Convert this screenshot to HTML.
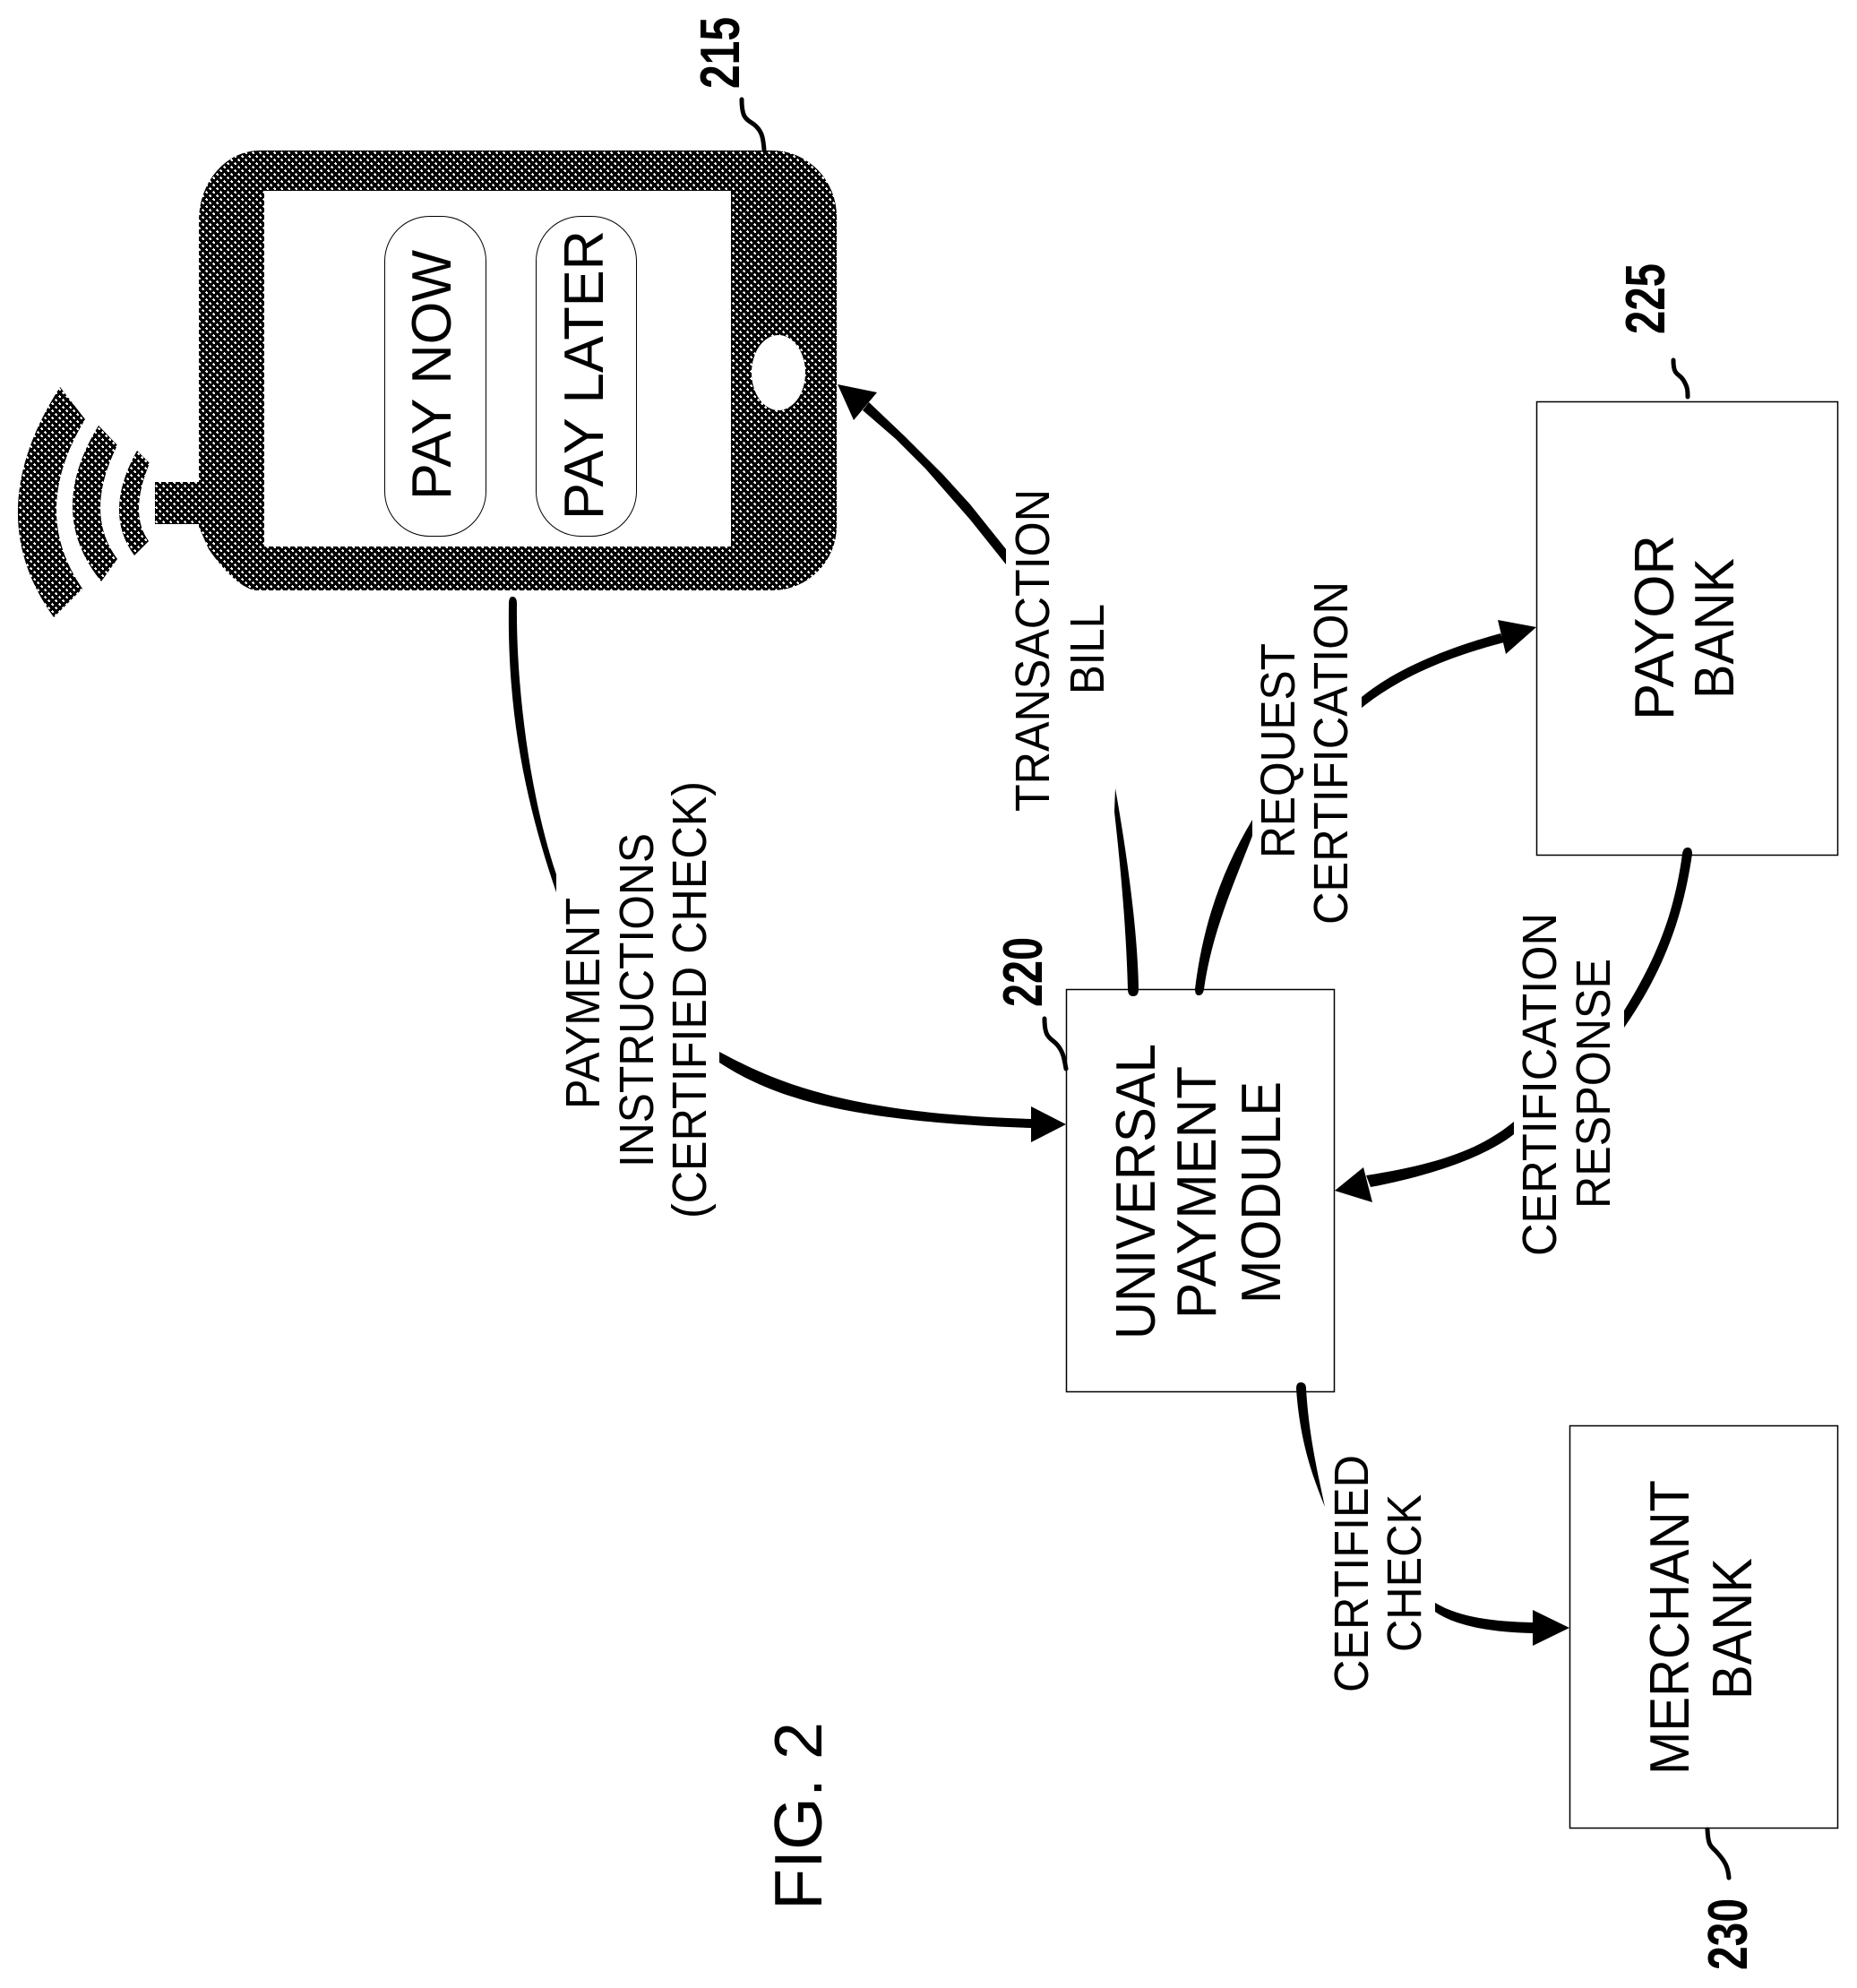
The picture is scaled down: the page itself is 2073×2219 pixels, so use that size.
<!DOCTYPE html>
<html>
<head>
<meta charset="utf-8">
<style>
html,body{margin:0;padding:0;background:#fff;}
svg{display:block;}
text{font-family:"Liberation Sans",Arial,sans-serif;fill:#000;}
</style>
</head>
<body>
<svg width="2073" height="2219" viewBox="0 0 2073 2219" xmlns="http://www.w3.org/2000/svg">
<defs>
<pattern id="d" width="8" height="8" patternUnits="userSpaceOnUse" x="0" y="0">
<rect width="8" height="8" fill="#000"/>
<path d="M2 1h1v1h1v2H2v-1H1V2h1zM6 5h1v1h1v2H6v-1H5V6h1z" fill="#fff" shape-rendering="crispEdges"/>
</pattern>
</defs>
<rect width="2073" height="2219" fill="#fff"/>

<!-- phone -->
<path fill="url(#d)" fill-rule="evenodd" d="M290 168H862A72 74 0 0 1 934 242V587A72 72 0 0 1 862 659H285C265 655 245 630 233 613L222 588V585H173V538H222V246A68 78 0 0 1 290 168ZM295 213V610H816V213Z"/>
<ellipse cx="869" cy="416" rx="30" ry="42" fill="#fff"/>
<rect x="429.500" y="241.500" width="113" height="357" rx="50" ry="50" fill="#fff" stroke="#000" stroke-width="1"/>
<rect x="598.500" y="241.500" width="112" height="357" rx="50" ry="50" fill="#fff" stroke="#000" stroke-width="1"/>

<!-- antenna arcs -->
<path fill="url(#d)" d="M67 432Q-23.500 573 60 689L92 657Q32.500 571 95 468Z"/>
<path fill="url(#d)" d="M110 475Q50.500 572 113 649L131 624Q93 573 131 497Z"/>
<path fill="url(#d)" d="M153 503Q114.500 572 150 620L166 604Q143.500 573 167 517Z"/>

<!-- boxes -->
<rect x="1190.500" y="1104.500" width="299" height="449" fill="none" stroke="#000" stroke-width="1.500"/>
<rect x="1715.500" y="448.500" width="336" height="506" fill="none" stroke="#000" stroke-width="1.500"/>
<rect x="1752.500" y="1591.500" width="299" height="449" fill="none" stroke="#000" stroke-width="1.500"/>

<!-- leaders -->
<g fill="none" stroke="#000" stroke-width="5" stroke-linecap="round">
<path d="M828 111C828 135 835 133 843 140C851 147 852 155 853 167"/>
<path d="M1166 1137C1166 1160 1173 1158 1180 1166C1187 1174 1188 1182 1190 1193"/>
<path d="M1868 402C1868 420 1874 416 1879 424C1884 432 1884 436 1884 443"/>
<path d="M1906 2042C1907 2062 1910 2060 1917 2068C1926 2078 1929 2084 1930 2096"/>
</g>

<!-- connectors: tapered segments -->
<g fill="#000">
<path d="M568 674Q568 666 572 666Q577 666 577 674C576 770 592 890 621 976V996C588 900 566 800 568 674Z"/>
<path d="M1245 880C1254 930 1270 1030 1271 1104Q1271 1112 1265 1112Q1259 1112 1259 1104C1257 1030 1250 960 1244 906Z"/>
<path d="M1398 915V933C1378 985 1353 1040 1344 1104Q1343 1111 1338 1111Q1334 1111 1334 1104C1343 1030 1365 970 1398 915Z"/>
<path d="M1878 953Q1879 946 1884 946Q1889 946 1889 953C1878 1030 1853 1090 1813 1147V1128C1849 1070 1869 1020 1878 953Z"/>
<path d="M1447 1550Q1447 1543 1452 1543Q1458 1543 1458 1550C1461 1600 1470 1640 1479 1682C1466 1650 1451 1610 1447 1550Z"/>
<polygon points="970,449 1010,487 1053,530 1083,563 1123,613 1123,630 1083,580 1033,523 1000,490 963,458"/>
<path d="M803 1174C870 1210 950 1243 1151 1249V1259C960 1252 870 1230 803 1186Z"/>
<path d="M1520 778C1560 745 1620 722 1675 707L1679 717C1630 730 1570 750 1520 790Z"/>
<path d="M1690 1252C1650 1285 1600 1300 1525 1312L1530 1325C1600 1312 1660 1290 1690 1266Z"/>
<path d="M1602 1789C1630 1806 1670 1810 1711 1811V1823C1665 1822 1625 1815 1602 1799Z"/>
<polygon points="935,429 979,438 953,469"/>
<polygon points="1151,1235 1190,1255 1151,1275"/>
<polygon points="1715,700 1672,692 1681,730"/>
<polygon points="1490,1329 1522,1303 1532,1342"/>
<polygon points="1752,1817 1711,1797 1711,1837"/>
</g>

<!-- text -->
<g>
<text transform="translate(503,558) rotate(-90)" font-size="62" textLength="279" lengthAdjust="spacingAndGlyphs">PAY NOW</text>
<text transform="translate(673,580) rotate(-90)" font-size="62" textLength="323" lengthAdjust="spacingAndGlyphs">PAY LATER</text>
<text transform="translate(1289,1495) rotate(-90)" font-size="62" textLength="330" lengthAdjust="spacingAndGlyphs">UNIVERSAL</text>
<text transform="translate(1357,1472) rotate(-90)" font-size="62" textLength="282" lengthAdjust="spacingAndGlyphs">PAYMENT</text>
<text transform="translate(1429,1455) rotate(-90)" font-size="62" textLength="248" lengthAdjust="spacingAndGlyphs">MODULE</text>
<text transform="translate(1868,804) rotate(-90)" font-size="62" textLength="207" lengthAdjust="spacingAndGlyphs">PAYOR</text>
<text transform="translate(1935,780) rotate(-90)" font-size="62" textLength="157" lengthAdjust="spacingAndGlyphs">BANK</text>
<text transform="translate(1885,1981) rotate(-90)" font-size="62" textLength="329" lengthAdjust="spacingAndGlyphs">MERCHANT</text>
<text transform="translate(1955,1897) rotate(-90)" font-size="62" textLength="158" lengthAdjust="spacingAndGlyphs">BANK</text>
<text transform="translate(669,1238) rotate(-90)" font-size="54" textLength="236" lengthAdjust="spacingAndGlyphs">PAYMENT</text>
<text transform="translate(729,1303) rotate(-90)" font-size="54" textLength="373" lengthAdjust="spacingAndGlyphs">INSTRUCTIONS</text>
<text transform="translate(788,1360) rotate(-90)" font-size="54" textLength="488" lengthAdjust="spacingAndGlyphs">(CERTIFIED CHECK)</text>
<text transform="translate(1171,906) rotate(-90)" font-size="54" textLength="360" lengthAdjust="spacingAndGlyphs">TRANSACTION</text>
<text transform="translate(1232,775) rotate(-90)" font-size="54" textLength="101" lengthAdjust="spacingAndGlyphs">BILL</text>
<text transform="translate(1445,958) rotate(-90)" font-size="54" textLength="240" lengthAdjust="spacingAndGlyphs">REQUEST</text>
<text transform="translate(1504,1032) rotate(-90)" font-size="54" textLength="383" lengthAdjust="spacingAndGlyphs">CERTIFICATION</text>
<text transform="translate(1737,1402) rotate(-90)" font-size="54" textLength="383" lengthAdjust="spacingAndGlyphs">CERTIFICATION</text>
<text transform="translate(1797,1349) rotate(-90)" font-size="54" textLength="279" lengthAdjust="spacingAndGlyphs">RESPONSE</text>
<text transform="translate(1527,1889) rotate(-90)" font-size="54" textLength="265" lengthAdjust="spacingAndGlyphs">CERTIFIED</text>
<text transform="translate(1586,1844) rotate(-90)" font-size="54" textLength="176" lengthAdjust="spacingAndGlyphs">CHECK</text>
<text transform="translate(917,2132) rotate(-90)" font-size="75" textLength="210" lengthAdjust="spacingAndGlyphs">FIG. 2</text>
<text transform="translate(825,99) rotate(-90)" font-size="62" font-weight="bold" textLength="80" lengthAdjust="spacingAndGlyphs">215</text>
<text transform="translate(1163,1124) rotate(-90)" font-size="62" font-weight="bold" textLength="78" lengthAdjust="spacingAndGlyphs">220</text>
<text transform="translate(1858,373) rotate(-90)" font-size="62" font-weight="bold" textLength="79" lengthAdjust="spacingAndGlyphs">225</text>
<text transform="translate(1950,2199) rotate(-90)" font-size="62" font-weight="bold" textLength="80" lengthAdjust="spacingAndGlyphs">230</text>
</g>
</svg>
</body>
</html>
